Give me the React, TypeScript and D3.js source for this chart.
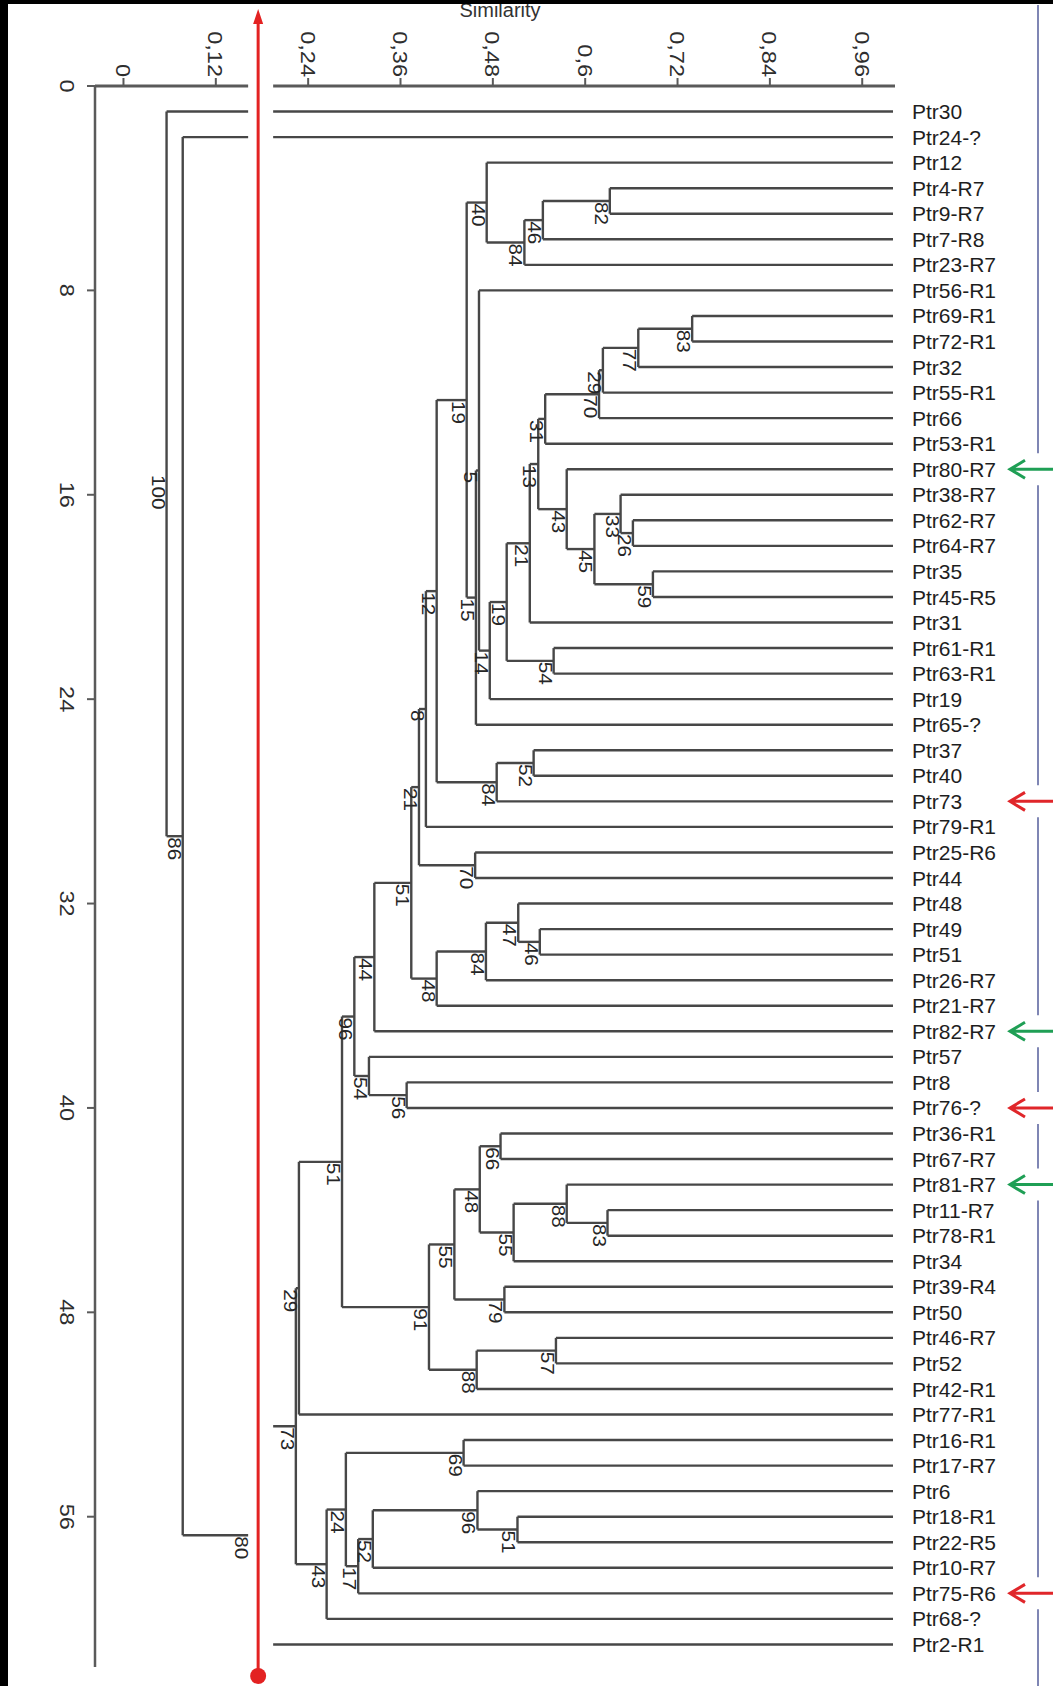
import React, { useEffect, useRef } from 'react';
import * as d3 from 'd3';

// leaf order, top to bottom
const leaves = [
  "Ptr30", "Ptr24-?", "Ptr12", "Ptr4-R7", "Ptr9-R7", "Ptr7-R8", "Ptr23-R7", "Ptr56-R1",
  "Ptr69-R1", "Ptr72-R1", "Ptr32", "Ptr55-R1", "Ptr66", "Ptr53-R1", "Ptr80-R7", "Ptr38-R7",
  "Ptr62-R7", "Ptr64-R7", "Ptr35", "Ptr45-R5", "Ptr31", "Ptr61-R1", "Ptr63-R1", "Ptr19",
  "Ptr65-?", "Ptr37", "Ptr40", "Ptr73", "Ptr79-R1", "Ptr25-R6", "Ptr44", "Ptr48", "Ptr49",
  "Ptr51", "Ptr26-R7", "Ptr21-R7", "Ptr82-R7", "Ptr57", "Ptr8", "Ptr76-?", "Ptr36-R1",
  "Ptr67-R7", "Ptr81-R7", "Ptr11-R7", "Ptr78-R1", "Ptr34", "Ptr39-R4", "Ptr50", "Ptr46-R7",
  "Ptr52", "Ptr42-R1", "Ptr77-R1", "Ptr16-R1", "Ptr17-R7", "Ptr6", "Ptr18-R1", "Ptr22-R5",
  "Ptr10-R7", "Ptr75-R6", "Ptr68-?", "Ptr2-R1",
];

// [node, child a, child b, similarity, bootstrap]
const merges: [string, string, string, number, number][] = [
  ["n82", "Ptr4-R7", "Ptr9-R7", 0.632, 82],
  ["n46", "n82", "Ptr7-R8", 0.545, 46],
  ["n84a", "n46", "Ptr23-R7", 0.521, 84],
  ["n40", "Ptr12", "n84a", 0.472, 40],
  ["n83a", "Ptr69-R1", "Ptr72-R1", 0.739, 83],
  ["n77", "n83a", "Ptr32", 0.669, 77],
  ["n29a", "n77", "Ptr55-R1", 0.623, 29],
  ["n70a", "n29a", "Ptr66", 0.618, 70],
  ["n31", "n70a", "Ptr53-R1", 0.548, 31],
  ["n26", "Ptr62-R7", "Ptr64-R7", 0.662, 26],
  ["n33", "Ptr38-R7", "n26", 0.646, 33],
  ["n59", "Ptr35", "Ptr45-R5", 0.688, 59],
  ["n45", "n33", "n59", 0.612, 45],
  ["n43a", "Ptr80-R7", "n45", 0.576, 43],
  ["n13", "n31", "n43a", 0.539, 13],
  ["n21a", "n13", "Ptr31", 0.528, 21],
  ["n54a", "Ptr61-R1", "Ptr63-R1", 0.559, 54],
  ["n19b", "n21a", "n54a", 0.498, 19],
  ["n14", "n19b", "Ptr19", 0.476, 14],
  ["n5", "Ptr56-R1", "n14", 0.462, 5],
  ["n15", "n5", "Ptr65-?", 0.458, 15],
  ["n19a", "n40", "n15", 0.446, 19],
  ["n52a", "Ptr37", "Ptr40", 0.533, 52],
  ["n84b", "n52a", "Ptr73", 0.485, 84],
  ["n12", "n19a", "n84b", 0.407, 12],
  ["n8", "n12", "Ptr79-R1", 0.393, 8],
  ["n70b", "Ptr25-R6", "Ptr44", 0.457, 70],
  ["n21b", "n8", "n70b", 0.384, 21],
  ["n46b", "Ptr49", "Ptr51", 0.541, 46],
  ["n47", "Ptr48", "n46b", 0.513, 47],
  ["n84c", "n47", "Ptr26-R7", 0.471, 84],
  ["n48a", "n84c", "Ptr21-R7", 0.407, 48],
  ["n51b", "n21b", "n48a", 0.374, 51],
  ["n44", "n51b", "Ptr82-R7", 0.326, 44],
  ["n56", "Ptr8", "Ptr76-?", 0.368, 56],
  ["n54b", "Ptr57", "n56", 0.319, 54],
  ["n96a", "n44", "n54b", 0.300, 96],
  ["n66", "Ptr36-R1", "Ptr67-R7", 0.490, 66],
  ["n83b", "Ptr11-R7", "Ptr78-R1", 0.629, 83],
  ["n88a", "Ptr81-R7", "n83b", 0.576, 88],
  ["n55a", "n88a", "Ptr34", 0.507, 55],
  ["n48b", "n66", "n55a", 0.463, 48],
  ["n79", "Ptr39-R4", "Ptr50", 0.495, 79],
  ["n55b", "n48b", "n79", 0.430, 55],
  ["n57", "Ptr46-R7", "Ptr52", 0.562, 57],
  ["n88b", "n57", "Ptr42-R1", 0.459, 88],
  ["n91", "n55b", "n88b", 0.397, 91],
  ["n51c", "n96a", "n91", 0.284, 51],
  ["n29b", "n51c", "Ptr77-R1", 0.228, 29],
  ["n69", "Ptr16-R1", "Ptr17-R7", 0.442, 69],
  ["n51d", "Ptr18-R1", "Ptr22-R5", 0.512, 51],
  ["n96b", "Ptr6", "n51d", 0.460, 96],
  ["n52b", "n96b", "Ptr10-R7", 0.324, 52],
  ["n17", "n52b", "Ptr75-R6", 0.305, 17],
  ["n24", "n69", "n17", 0.289, 24],
  ["n43b", "n24", "Ptr68-?", 0.264, 43],
  ["n73", "n29b", "n43b", 0.224, 73],
  ["n80", "n73", "Ptr2-R1", 0.174, 80],
  ["n86", "Ptr24-?", "n80", 0.077, 86],
  ["n100", "Ptr30", "n86", 0.056, 100],
];

const xTicks = [0, 0.12, 0.24, 0.36, 0.48, 0.6, 0.72, 0.84, 0.96];
const xTickLabels = ["0", "0,12", "0,24", "0,36", "0,48", "0,6", "0,72", "0,84", "0,96"];
const yTicks = [0, 8, 16, 24, 32, 40, 48, 56];

const cutoff = 0.175; // red line
const greenArrows = ["Ptr80-R7", "Ptr82-R7", "Ptr81-R7"];
const redArrows = ["Ptr73", "Ptr76-?", "Ptr75-R6"];

const W = 1053;
const H = 1686;
const FONT = "'Liberation Sans', Arial, sans-serif";

const App = () => {
  const ref = useRef<SVGSVGElement>(null);

  useEffect(() => {
    const svg = d3.select(ref.current);
    svg.selectAll("*").remove();

    svg.append("rect").attr("width", W).attr("height", H).attr("fill", "#fff");

    const x = d3.scaleLinear().domain([-0.037, 1]).range([95, 893]);
    const y = d3.scaleLinear().domain([0, 62]).range([86, 1670]);

    const mergeMap = new Map(merges.map(m => [m[0], m]));
    const root = d3.hierarchy<string>("n100", id => {
      const m = mergeMap.get(id);
      return m ? [m[1], m[2]] : null;
    });

    // positions
    const pos = new Map<string, { x: number; y: number }>();
    root.eachAfter(node => {
      const id = node.data;
      if (!node.children) {
        pos.set(id, { x: x(1), y: y(leaves.indexOf(id) + 1) });
      } else {
        const ys = node.children.map(c => pos.get(c.data)!.y);
        pos.set(id, { x: x(mergeMap.get(id)![3]), y: d3.mean(ys)! });
      }
    });

    const tree = svg.append("g")
      .attr("stroke", "#474747")
      .attr("stroke-width", 2.4)
      .attr("fill", "none");

    const internal = root.descendants().filter(d => d.children);
    internal.forEach(node => {
      const p = pos.get(node.data)!;
      const cy = node.children!.map(c => pos.get(c.data)!.y);
      tree.append("line")
        .attr("x1", p.x).attr("x2", p.x)
        .attr("y1", d3.min(cy)!).attr("y2", d3.max(cy)!);
      node.children!.forEach(c => {
        const q = pos.get(c.data)!;
        tree.append("line")
          .attr("x1", p.x).attr("x2", q.x)
          .attr("y1", q.y).attr("y2", q.y);
      });
    });

    // axes
    const axis = svg.append("g").attr("stroke", "#5a5a5a");
    axis.append("line")
      .attr("x1", x.range()[0]).attr("x2", 895)
      .attr("y1", y(0)).attr("y2", y(0))
      .attr("stroke-width", 3);
    axis.append("line")
      .attr("x1", x.range()[0]).attr("x2", x.range()[0])
      .attr("y1", y(0)).attr("y2", 1667)
      .attr("stroke-width", 2.5);
    axis.selectAll(".xt").data(xTicks).join("line")
      .attr("x1", d => x(d)).attr("x2", d => x(d))
      .attr("y1", y(0) - 8).attr("y2", y(0))
      .attr("stroke-width", 2);
    axis.selectAll(".yt").data(yTicks).join("line")
      .attr("x1", x.range()[0] - 8).attr("x2", x.range()[0])
      .attr("y1", d => y(d)).attr("y2", d => y(d))
      .attr("stroke-width", 2);

    svg.append("g")
      .selectAll("text").data(xTicks).join("text")
      .attr("transform", d => `translate(${x(d) - 7.5},${y(0) - 9}) rotate(90) scale(1.12,1)`)
      .attr("text-anchor", "end")
      .attr("font-family", FONT)
      .attr("font-size", 21)
      .attr("fill", "#2e2e2e")
      .text((d, i) => xTickLabels[i]);

    svg.append("g")
      .selectAll("text").data(yTicks).join("text")
      .attr("transform", d => `translate(60,${y(d)}) rotate(90) scale(1.12,1)`)
      .attr("text-anchor", "middle")
      .attr("font-family", FONT)
      .attr("font-size", 21)
      .attr("fill", "#2e2e2e")
      .text(d => d);

    svg.append("text")
      .attr("x", 500).attr("y", 17)
      .attr("text-anchor", "middle")
      .attr("font-family", FONT)
      .attr("font-size", 20)
      .attr("fill", "#333")
      .text("Similarity");

    // white band behind the red cut line
    const cx = x(cutoff);
    svg.append("rect")
      .attr("x", cx - 10).attr("y", 0)
      .attr("width", 25).attr("height", H)
      .attr("fill", "#fff");

    // bootstrap values, kept left of the white band
    svg.append("g")
      .selectAll("text").data(internal).join("text")
      .attr("transform", d => {
        const p = pos.get(d.data)!;
        const lx = p.x < cx + 15 ? Math.min(p.x, cx - 8) : p.x;
        return `translate(${lx - 15},${p.y + 1}) rotate(90) scale(1.15,1)`;
      })
      .attr("font-family", FONT)
      .attr("font-size", 18)
      .attr("fill", "#262626")
      .text(d => mergeMap.get(d.data)![4]);

    // leaf labels
    svg.append("g")
      .selectAll("text").data(leaves).join("text")
      .attr("x", 912)
      .attr("y", (d, i) => y(i + 1))
      .attr("dy", "0.36em")
      .attr("font-family", FONT)
      .attr("font-size", 21)
      .attr("fill", "#1e1e1e")
      .text(d => d);

    // red cut line
    const red = "#e32222";
    svg.append("line")
      .attr("x1", cx).attr("x2", cx)
      .attr("y1", 20).attr("y2", 1676)
      .attr("stroke", red).attr("stroke-width", 3);
    svg.append("path")
      .attr("d", `M${cx},9 L${cx - 5},24 L${cx + 5},24 Z`)
      .attr("fill", red);
    svg.append("circle")
      .attr("cx", cx).attr("cy", 1676).attr("r", 8)
      .attr("fill", red);

    // right-hand marker line with arrows
    const arrowRows = [...greenArrows, ...redArrows].map(n => y(leaves.indexOf(n) + 1)).sort((a, b) => a - b);
    const segs: [number, number][] = [];
    let start = 5;
    arrowRows.forEach(r => { segs.push([start, r - 16]); start = r + 16; });
    segs.push([start, H]);
    svg.append("g").selectAll("line").data(segs).join("line")
      .attr("x1", 1038).attr("x2", 1038)
      .attr("y1", d => d[0]).attr("y2", d => d[1])
      .attr("stroke", "#7f86b4").attr("stroke-width", 2);

    const arrows = [
      ...greenArrows.map(n => ({ n, c: "#1f9f55" })),
      ...redArrows.map(n => ({ n, c: "#e0262a" })),
    ];
    svg.append("g").selectAll("path").data(arrows).join("path")
      .attr("d", d => {
        const ay = y(leaves.indexOf(d.n) + 1);
        return `M${W},${ay} L1010,${ay} M1025,${ay - 9} L1010,${ay} L1025,${ay + 9}`;
      })
      .attr("fill", "none")
      .attr("stroke", d => d.c)
      .attr("stroke-width", 3);

    // frame
    svg.append("rect").attr("x", 0).attr("y", 0).attr("width", W).attr("height", 4).attr("fill", "#000");
    svg.append("rect").attr("x", 0).attr("y", 0).attr("width", 8).attr("height", H).attr("fill", "#000");
  }, []);

  return (
    <svg ref={ref} width={W} height={H} style={{ position: 'absolute', left: 0, top: 0 }}></svg>
  );
};

export default App;
